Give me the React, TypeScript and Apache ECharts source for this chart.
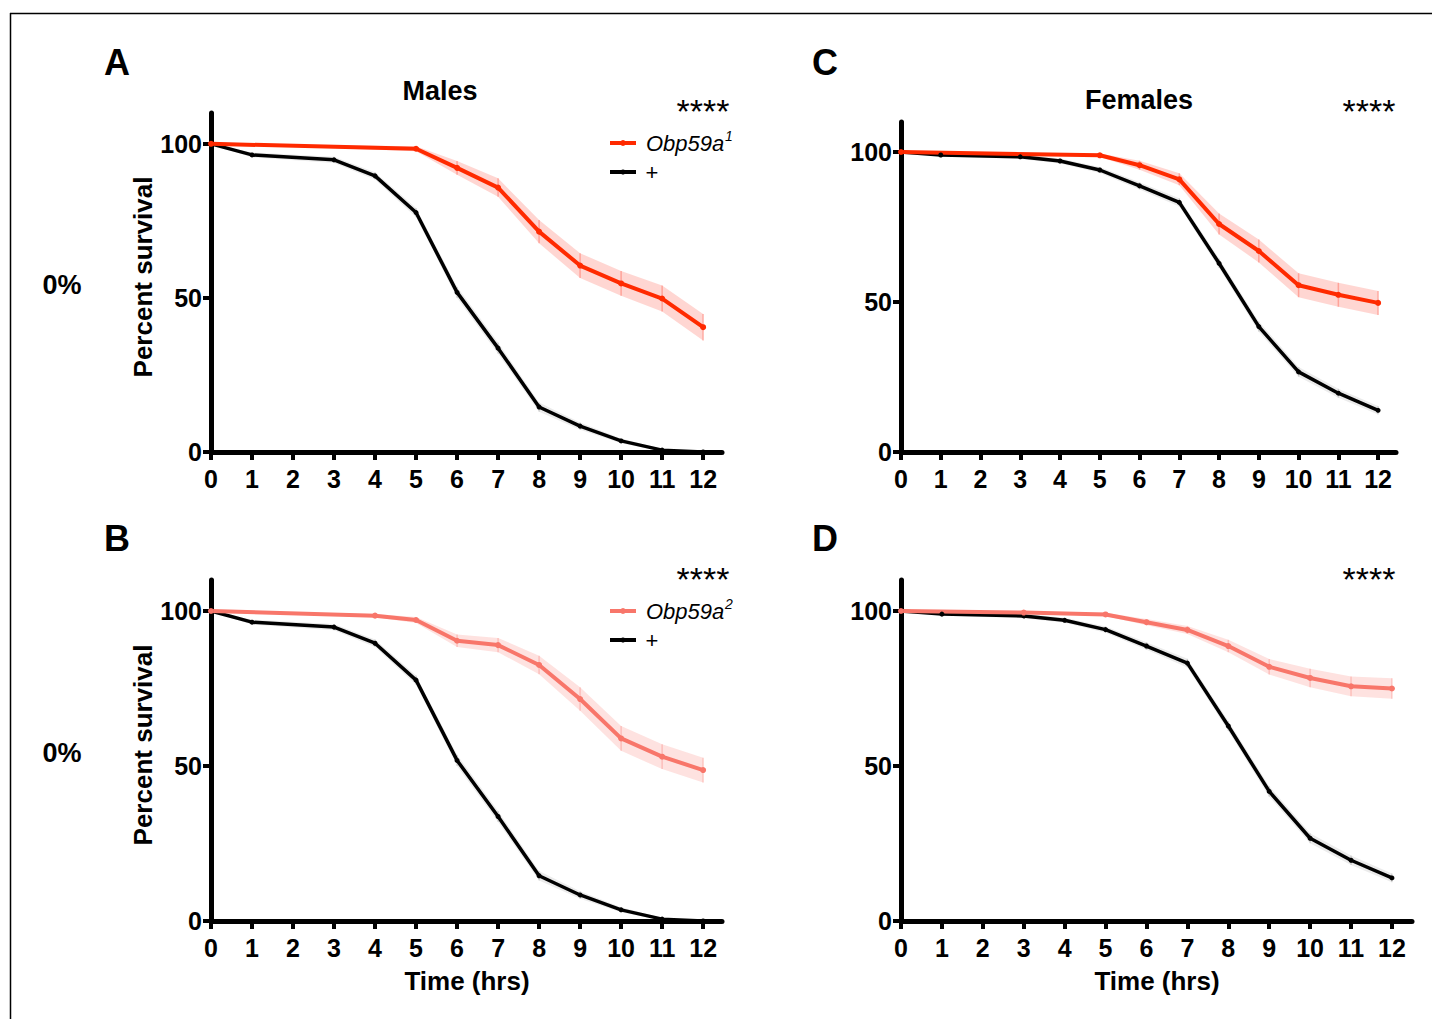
import React, { useEffect, useRef } from "react";
import * as echarts from "echarts";

// ---------- data ----------
const xTickValues = [0, 1, 2, 3, 4, 5, 6, 7, 8, 9, 10, 11, 12];
const yTickValues = [0, 50, 100];

// Males control (+)
const maleCtrlHours = [0, 1, 3, 4, 5, 6, 7, 8, 9, 10, 11, 12];
const maleCtrl = [100, 96.4, 94.8, 89.6, 77.7, 51.8, 33.7, 14.6, 8.4, 3.6, 0.6, 0];
const maleCtrlCi = [0, 0.8, 1, 1.2, 1.5, 1.8, 1.8, 1.5, 1.2, 0.8, 0.4, 0];

// Males Obp59a1
const maleMut1Hours = [0, 5, 6, 7, 8, 9, 10, 11, 12];
const maleMut1 = [100, 98.4, 92.2, 85.8, 71.5, 60.5, 54.7, 49.8, 40.5];
const maleMut1Ci = [0, 0.8, 2.2, 3, 3.8, 4, 4, 4.2, 4.3];

// Males Obp59a2
const maleMut2Hours = [0, 4, 5, 6, 7, 8, 9, 10, 11, 12];
const maleMut2 = [100, 98.5, 97.1, 90.4, 89, 82.6, 71.6, 58.9, 53, 48.7];
const maleMut2Ci = [0, 0.5, 1, 2, 2.3, 3, 3.8, 4, 4, 4];

// Females control (+)
const femCtrlHours = [0, 1, 3, 4, 5, 6, 7, 8, 9, 10, 11, 12];
const femCtrl = [100, 99, 98.4, 97, 94, 88.7, 83.2, 62.9, 41.8, 26.7, 19.6, 13.9];
const femCtrlCi = [0, 0.5, 0.7, 0.8, 1, 1.2, 1.4, 1.6, 1.7, 1.6, 1.5, 1.4];

// Females Obp59a1
const femMut1Hours = [0, 5, 6, 7, 8, 9, 10, 11, 12];
const femMut1 = [100, 98.9, 95.6, 90.9, 76, 67, 55.6, 52.4, 49.7];
const femMut1Ci = [0, 0.6, 1.5, 2, 3.5, 3.8, 4, 4, 4];

// Females Obp59a2
const femMut2Hours = [0, 3, 5, 6, 7, 8, 9, 10, 11, 12];
const femMut2 = [100, 99.5, 98.9, 96.4, 93.9, 88.7, 82, 78.4, 75.7, 75];
const femMut2Ci = [0, 0.3, 0.5, 1, 1.3, 2, 2.5, 3, 3.2, 3.3];

// ---------- styles ----------
const FONT = "Liberation Sans, Arial, Helvetica, sans-serif";
const RED = "#FF2A00";
const RED_BAND = "rgba(255,70,50,0.22)";
const RED_BAR = "rgba(255,70,50,0.35)";
const PINK = "#F8766A";
const PINK_BAND = "rgba(248,110,100,0.2)";
const PINK_BAR = "rgba(248,110,100,0.3)";
const BLACK = "#000000";
const GRAY_BAND = "rgba(0,0,0,0.08)";
const GRAY_BAR = "rgba(0,0,0,0.12)";

const grids = [
  { left: 211, top: 113, width: 511, height: 339, xMax: 12.46 }, // A
  { left: 901, top: 122, width: 495, height: 330, xMax: 12.45 }, // C
  { left: 211, top: 580, width: 511, height: 341, xMax: 12.46 }, // B
  { left: 901, top: 580, width: 511, height: 341, xMax: 12.49 }, // D
];

function bandSeries(g: number, hrs: number[], vals: number[], ci: number[], fill: string, bar: string) {
  return {
    type: "custom",
    xAxisIndex: g,
    yAxisIndex: g,
    silent: true,
    z: 1,
    data: [[hrs[0], vals[0]]],
    renderItem: (_p: any, api: any) => {
      const up = hrs.map((h, i) => api.coord([h, vals[i] + ci[i]]));
      const lo = hrs.map((h, i) => api.coord([h, Math.max(0, vals[i] - ci[i])])).reverse();
      const children: any[] = [
        { type: "polygon", shape: { points: up.concat(lo) }, style: { fill } },
      ];
      hrs.forEach((h, i) => {
        if (ci[i] > 0) {
          const a = api.coord([h, vals[i] + ci[i]]);
          const b = api.coord([h, Math.max(0, vals[i] - ci[i])]);
          children.push({
            type: "line",
            shape: { x1: a[0], y1: a[1], x2: b[0], y2: b[1] },
            style: { stroke: bar, lineWidth: 1.5 },
          });
        }
      });
      return { type: "group", children };
    },
  };
}

function lineSeries(g: number, name: string, hrs: number[], vals: number[], color: string, width: number, size: number) {
  return {
    type: "line",
    name,
    xAxisIndex: g,
    yAxisIndex: g,
    z: 3,
    data: hrs.map((h, i) => [h, vals[i]]),
    symbol: "circle",
    symbolSize: size,
    showSymbol: true,
    itemStyle: { color },
    lineStyle: { color, width },
  };
}

function txt(x: number, y: number, text: string, size: number, weight: string = "bold", extra: any = {}) {
  return {
    type: "text",
    x,
    y,
    silent: true,
    style: {
      text,
      fontSize: size,
      fontWeight: weight,
      fontFamily: FONT,
      fill: "#000",
      align: "center",
      verticalAlign: "middle",
      ...extra,
    },
  };
}

function legend(y1: number, label: string, sup: string, color: string) {
  const y2 = y1 + 29;
  return [
    { type: "line", silent: true, shape: { x1: 610, y1, x2: 636, y2: y1 }, style: { stroke: color, lineWidth: 4 } },
    { type: "circle", silent: true, shape: { cx: 623, cy: y1, r: 3 }, style: { fill: color } },
    txt(646, y1, label, 22, "normal", { align: "left", fontStyle: "italic" }),
    txt(725, y1 - 7, sup, 14, "normal", { align: "left", fontStyle: "italic" }),
    { type: "line", silent: true, shape: { x1: 610, y1: y2, x2: 636, y2 }, style: { stroke: BLACK, lineWidth: 4 } },
    { type: "circle", silent: true, shape: { cx: 623, cy: y2, r: 2.5 }, style: { fill: BLACK } },
    txt(652, y2, "+", 22, "normal"),
  ];
}

export default function App() {
  const ref = useRef<HTMLDivElement>(null);
  useEffect(() => {
    if (!ref.current) return;
    const chart = echarts.init(ref.current, undefined, { renderer: "svg" });

    const xAxis = grids.map((g, i) => ({
      gridIndex: i,
      type: "value",
      min: 0,
      max: g.xMax,
      interval: 1,
      axisLine: { show: true, onZero: false, lineStyle: { color: "#000", width: 5 } },
      axisTick: { show: true, length: 8, customValues: xTickValues, lineStyle: { color: "#000", width: 4 } },
      axisLabel: {
        customValues: xTickValues,
        fontSize: 25,
        fontWeight: "bold",
        fontFamily: FONT,
        color: "#000",
        margin: 14,
      },
      splitLine: { show: false },
    }));
    const yAxis = grids.map((_g, i) => ({
      gridIndex: i,
      type: "value",
      min: 0,
      max: 110,
      interval: 50,
      axisLine: { show: true, onZero: false, lineStyle: { color: "#000", width: 5 } },
      axisTick: { show: true, length: 8, customValues: yTickValues, lineStyle: { color: "#000", width: 4 } },
      axisLabel: {
        customValues: yTickValues,
        fontSize: 25,
        fontWeight: "bold",
        fontFamily: FONT,
        color: "#000",
        margin: 9,
      },
      splitLine: { show: false },
    }));

    const series: any[] = [
      // A: males Obp59a1
      bandSeries(0, maleCtrlHours, maleCtrl, maleCtrlCi, GRAY_BAND, GRAY_BAR),
      bandSeries(0, maleMut1Hours, maleMut1, maleMut1Ci, RED_BAND, RED_BAR),
      lineSeries(0, "+", maleCtrlHours, maleCtrl, BLACK, 3.5, 5),
      lineSeries(0, "Obp59a1", maleMut1Hours, maleMut1, RED, 4, 6),
      // C: females Obp59a1
      bandSeries(1, femCtrlHours, femCtrl, femCtrlCi, GRAY_BAND, GRAY_BAR),
      bandSeries(1, femMut1Hours, femMut1, femMut1Ci, RED_BAND, RED_BAR),
      lineSeries(1, "+", femCtrlHours, femCtrl, BLACK, 3.5, 5),
      lineSeries(1, "Obp59a1", femMut1Hours, femMut1, RED, 4, 6),
      // B: males Obp59a2
      bandSeries(2, maleCtrlHours, maleCtrl, maleCtrlCi, GRAY_BAND, GRAY_BAR),
      bandSeries(2, maleMut2Hours, maleMut2, maleMut2Ci, PINK_BAND, PINK_BAR),
      lineSeries(2, "+", maleCtrlHours, maleCtrl, BLACK, 3.5, 5),
      lineSeries(2, "Obp59a2", maleMut2Hours, maleMut2, PINK, 4, 6),
      // D: females Obp59a2
      bandSeries(3, femCtrlHours, femCtrl, femCtrlCi, GRAY_BAND, GRAY_BAR),
      bandSeries(3, femMut2Hours, femMut2, femMut2Ci, PINK_BAND, PINK_BAR),
      lineSeries(3, "+", femCtrlHours, femCtrl, BLACK, 3.5, 5),
      lineSeries(3, "Obp59a2", femMut2Hours, femMut2, PINK, 4, 6),
    ];

    const graphic: any[] = [
      // frame
      { type: "line", silent: true, shape: { x1: 10, y1: 13.5, x2: 1432, y2: 13.5 }, style: { stroke: "#000", lineWidth: 1.5 } },
      { type: "line", silent: true, shape: { x1: 10.5, y1: 13, x2: 10.5, y2: 1019 }, style: { stroke: "#000", lineWidth: 1.5 } },
      // panel letters
      txt(117, 62, "A", 36),
      txt(825, 62, "C", 36),
      txt(117, 538, "B", 36),
      txt(825, 538, "D", 36),
      // titles
      txt(440, 91, "Males", 27),
      txt(1139, 100, "Females", 27),
      // row labels
      txt(62, 285, "0%", 27),
      txt(62, 753, "0%", 27),
      // y titles
      { ...txt(143, 277, "Percent survival", 26), rotation: Math.PI / 2 },
      { ...txt(143, 745, "Percent survival", 26), rotation: Math.PI / 2 },
      // x titles
      txt(467, 981, "Time (hrs)", 26),
      txt(1157, 981, "Time (hrs)", 26),
      // significance
      txt(703, 111, "****", 34, "normal"),
      txt(1369, 111, "****", 34, "normal"),
      txt(703, 579, "****", 34, "normal"),
      txt(1369, 579, "****", 34, "normal"),
      // legends
      ...legend(143, "Obp59a", "1", RED),
      ...legend(611, "Obp59a", "2", PINK),
    ];

    chart.setOption({
      animation: false,
      backgroundColor: "#ffffff",
      grid: grids.map((g) => ({ left: g.left, top: g.top, width: g.width, height: g.height, containLabel: false })),
      xAxis,
      yAxis,
      series,
      graphic,
    });
    return () => chart.dispose();
  }, []);

  return (
    <div
      ref={ref}
      style={{ position: "fixed", left: 0, top: 0, width: 1432, height: 1019, background: "#fff" }}
    />
  );
}
